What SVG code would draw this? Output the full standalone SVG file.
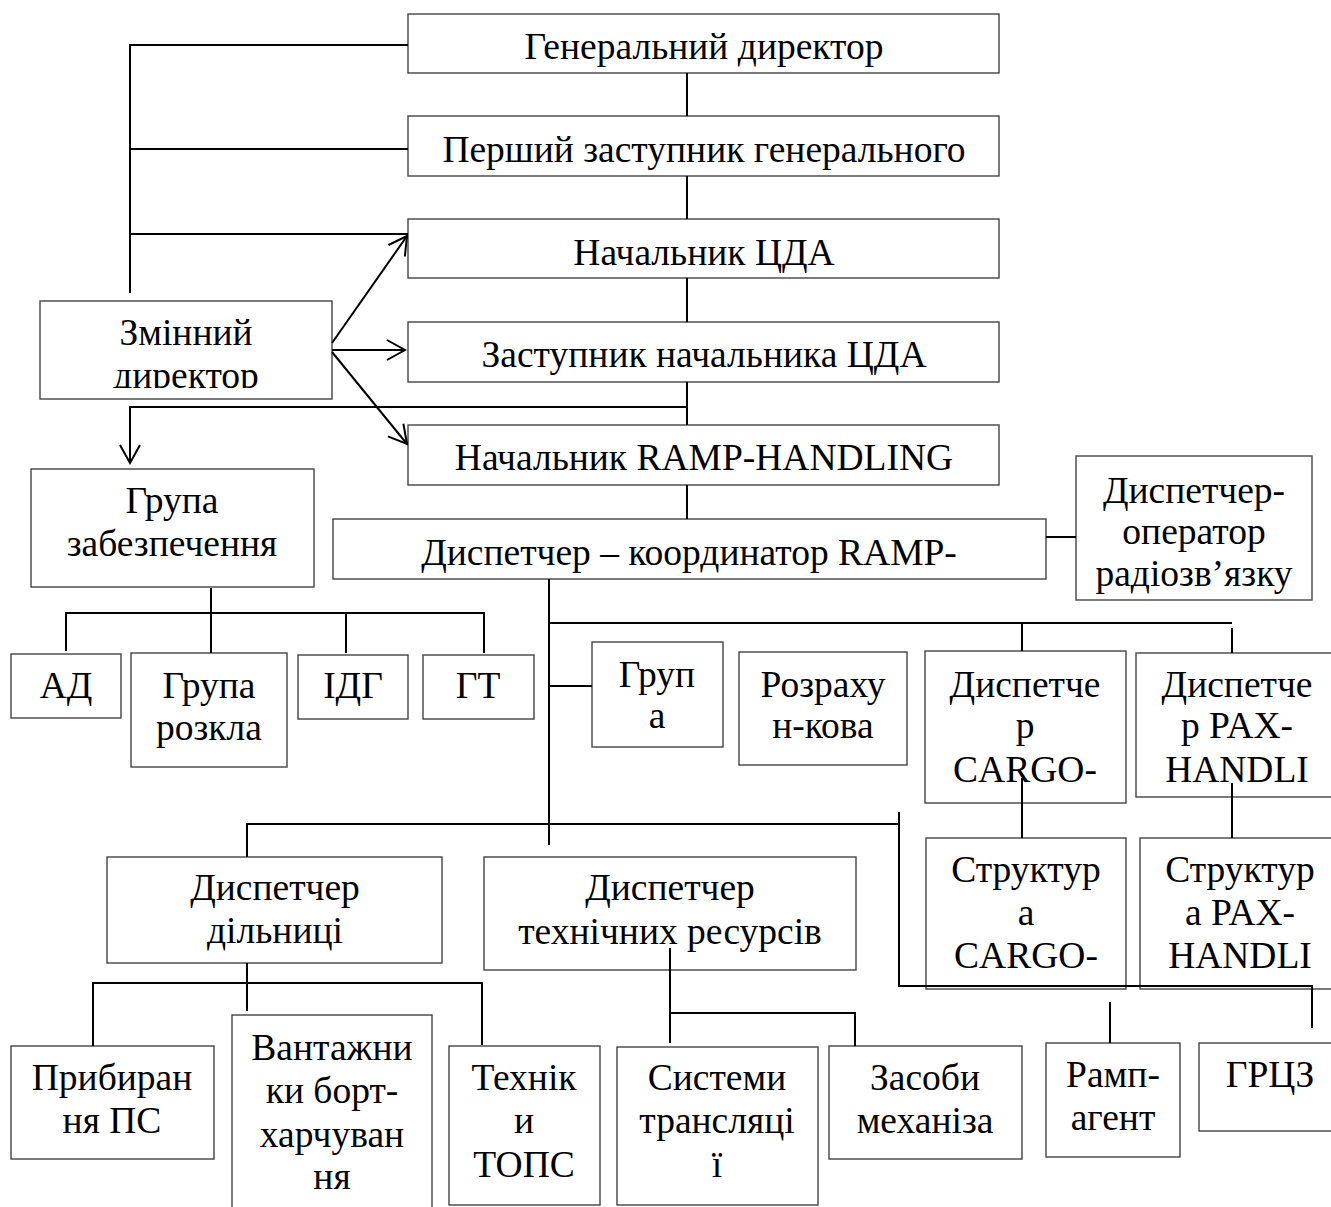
<svg xmlns="http://www.w3.org/2000/svg" width="1331" height="1207" viewBox="0 0 1331 1207">
<style>
.box{fill:#fff;stroke:#444;stroke-width:1.4}
.t{font-family:"Liberation Serif","Times New Roman",serif;font-size:37.5px;fill:#000;text-anchor:middle}
.c{fill:none;stroke:#000;stroke-width:2}
</style>
<defs>
<marker id="arr" markerUnits="userSpaceOnUse" markerWidth="22" markerHeight="24" refX="20" refY="12" orient="auto">
<path d="M2,2 L20,12 L2,22" fill="none" stroke="#000" stroke-width="2"/>
</marker>
<clipPath id="clipZD"><rect x="40" y="301" width="292" height="87"/></clipPath>
</defs>
<rect width="1331" height="1207" fill="#fff"/>

<g id="gen-dir"><rect class="box" x="408" y="14" width="591" height="59"/><text class="t" x="704" y="59">Генеральний директор</text></g>
<g id="first-deputy"><rect class="box" x="408" y="116" width="591" height="60"/><text class="t" x="704" y="162">Перший заступник генерального</text></g>
<g id="head-cda"><rect class="box" x="408" y="219" width="591" height="59"/><text class="t" x="704" y="265">Начальник ЦДА</text></g>
<g id="deputy-cda"><rect class="box" x="408" y="322" width="591" height="60"/><text class="t" x="704" y="367">Заступник начальника ЦДА</text></g>
<g id="head-ramp"><rect class="box" x="408" y="425" width="591" height="60"/><text class="t" x="704" y="470">Начальник RAMP-HANDLING</text></g>
<g id="shift-dir"><rect class="box" x="40" y="301" width="292" height="98"/><text class="t" x="186" y="345">Змінний</text><text class="t" x="186" y="388" clip-path="url(#clipZD)">директор</text></g>
<g id="support-group"><rect class="box" x="31" y="469" width="283" height="118"/><text class="t" x="172" y="513">Група</text><text class="t" x="172" y="556">забезпечення</text></g>
<g id="coord"><rect class="box" x="333" y="519" width="713" height="60"/><text class="t" x="689" y="565">Диспетчер – координатор RAMP-</text></g>
<g id="radio"><rect class="box" x="1076" y="456" width="236" height="144"/><text class="t" x="1194" y="503">Диспетчер-</text><text class="t" x="1194" y="544">оператор</text><text class="t" x="1194" y="586">радіозв’язку</text></g>
<g id="ad"><rect class="box" x="11" y="654" width="110" height="64"/><text class="t" x="66" y="698">АД</text></g>
<g id="sched"><rect class="box" x="131" y="653" width="156" height="114"/><text class="t" x="209" y="698">Група</text><text class="t" x="209" y="740">розкла</text></g>
<g id="idg"><rect class="box" x="298" y="655" width="110" height="64"/><text class="t" x="353" y="698">ІДГ</text></g>
<g id="gt"><rect class="box" x="423" y="655" width="111" height="64"/><text class="t" x="478" y="698">ГТ</text></g>
<g id="grup"><rect class="box" x="592" y="642" width="131" height="105"/><text class="t" x="657" y="687">Груп</text><text class="t" x="657" y="728">а</text></g>
<g id="calc"><rect class="box" x="739" y="652" width="168" height="113"/><text class="t" x="823" y="697">Розраху</text><text class="t" x="823" y="738">н-кова</text></g>
<g id="cargo-disp"><rect class="box" x="925" y="651" width="201" height="152"/><text class="t" x="1025" y="697">Диспетче</text><text class="t" x="1025" y="738">р</text><text class="t" x="1025" y="782">CARGO-</text></g>
<g id="pax-disp"><rect class="box" x="1136" y="653" width="202" height="144"/><text class="t" x="1237" y="697">Диспетче</text><text class="t" x="1237" y="738">р PAX-</text><text class="t" x="1237" y="782">HANDLI</text></g>
<g id="cargo-struct"><rect class="box" x="926" y="838" width="200" height="151"/><text class="t" x="1026" y="882">Структур</text><text class="t" x="1026" y="925">а</text><text class="t" x="1026" y="968">CARGO-</text></g>
<g id="pax-struct"><rect class="box" x="1140" y="838" width="200" height="151"/><text class="t" x="1240" y="882">Структур</text><text class="t" x="1240" y="925">а PAX-</text><text class="t" x="1240" y="968">HANDLI</text></g>
<g id="site-disp"><rect class="box" x="107" y="857" width="335" height="106"/><text class="t" x="275" y="900">Диспетчер</text><text class="t" x="275" y="943">дільниці</text></g>
<g id="tech-disp"><rect class="box" x="484" y="857" width="372" height="113"/><text class="t" x="670" y="900">Диспетчер</text><text class="t" x="670" y="944">технічних ресурсів</text></g>
<g id="cleaning"><rect class="box" x="11" y="1046" width="203" height="113"/><text class="t" x="112" y="1090">Прибиран</text><text class="t" x="112" y="1133">ня ПС</text></g>
<g id="loaders"><rect class="box" x="232" y="1015" width="200" height="200"/><text class="t" x="332" y="1060">Вантажни</text><text class="t" x="332" y="1103">ки борт-</text><text class="t" x="332" y="1147">харчуван</text><text class="t" x="332" y="1189">ня</text></g>
<g id="techs"><rect class="box" x="449" y="1046" width="151" height="159"/><text class="t" x="524" y="1090">Технік</text><text class="t" x="524" y="1133">и</text><text class="t" x="524" y="1177">ТОПС</text></g>
<g id="systems"><rect class="box" x="617" y="1047" width="201" height="158"/><text class="t" x="717" y="1090">Системи</text><text class="t" x="717" y="1133">трансляці</text><text class="t" x="717" y="1177">ї</text></g>
<g id="means"><rect class="box" x="829" y="1046" width="193" height="113"/><text class="t" x="925" y="1090">Засоби</text><text class="t" x="925" y="1133">механіза</text></g>
<g id="ramp-agent"><rect class="box" x="1046" y="1043" width="134" height="114"/><text class="t" x="1113" y="1087">Рамп-</text><text class="t" x="1113" y="1130">агент</text></g>
<g id="grcz"><rect class="box" x="1199" y="1043" width="142" height="88"/><text class="t" x="1270" y="1087">ГРЦЗ</text></g>

<g id="connectors">
<path class="c" d="M687,73 V116 M687,176 V219 M687,278 V322 M687,382 V425 M687,485 V519"/>
<path class="c" d="M130,293 V45 H408 M130,149 H408 M130,234 H408"/>
<path class="c" d="M687,407 H130 V463" marker-end="url(#arr)"/>
<path class="c" d="M332,343 L407,236" marker-end="url(#arr)"/>
<path class="c" d="M332,350 L405,350" marker-end="url(#arr)"/>
<path class="c" d="M332,352 L407,444" marker-end="url(#arr)"/>
<path class="c" d="M1046,537 H1076"/>
<path class="c" d="M211,588 V653 M66,651 V613 H484 V653 M346,613 V653"/>
<path class="c" d="M549,579 V845 M549,623 H1232 M1022,623 V651 M1232,628 V653 M549,686 H592"/>
<path class="c" d="M1022,778 V838 M1232,783 V838"/>
<path class="c" d="M247,857 V824 H899 M899,812 V986 H1312 V1028 M1110,1002 V1043"/>
<path class="c" d="M247,963 V1011 M93,1046 V983 H482 V1045"/>
<path class="c" d="M670,948 V1043 M670,1013 H855 V1046"/>
</g>
</svg>
